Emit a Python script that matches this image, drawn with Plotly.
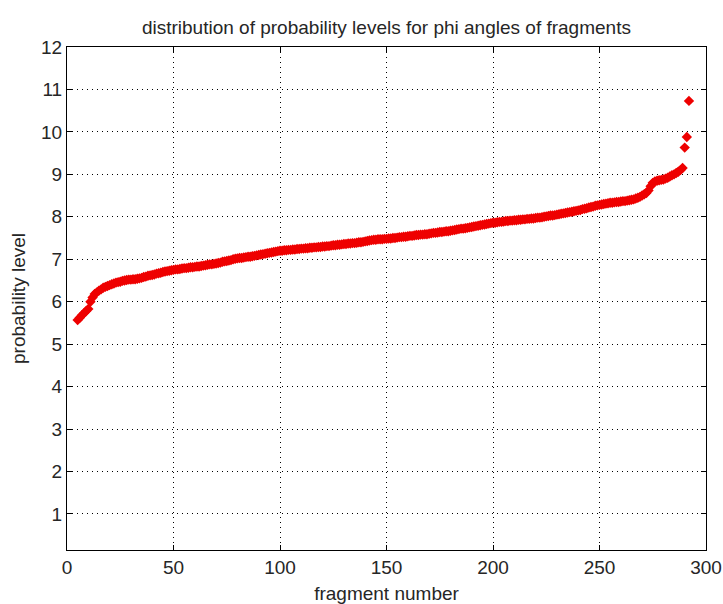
import plotly.graph_objects as go

# fragment index (x) and sorted probability level of each fragment (y)
fragment = list(range(5, 293))
prob_level = [
    5.57, 5.62, 5.68, 5.73, 5.78,
    5.83, 6.00, 6.10, 6.18, 6.22, 6.26, 6.29, 6.33, 6.35, 6.37,
    6.39, 6.41, 6.43, 6.45, 6.46, 6.47, 6.49, 6.50, 6.51, 6.52,
    6.52, 6.53, 6.53, 6.54, 6.55, 6.56, 6.58, 6.59, 6.61, 6.62,
    6.63, 6.64, 6.66, 6.67, 6.68, 6.70, 6.71, 6.72, 6.73, 6.74,
    6.75, 6.76, 6.76, 6.77, 6.78, 6.79, 6.79, 6.80, 6.81, 6.81,
    6.82, 6.83, 6.83, 6.84, 6.85, 6.86, 6.87, 6.88, 6.88, 6.89,
    6.90, 6.91, 6.92, 6.94, 6.95, 6.96, 6.97, 6.98, 7.00, 7.01,
    7.02, 7.03, 7.03, 7.04, 7.05, 7.06, 7.06, 7.07, 7.08, 7.09,
    7.10, 7.11, 7.12, 7.13, 7.14, 7.15, 7.16, 7.17, 7.18, 7.19,
    7.20, 7.20, 7.21, 7.21, 7.22, 7.22, 7.23, 7.23, 7.24, 7.24,
    7.25, 7.25, 7.26, 7.26, 7.27, 7.27, 7.28, 7.28, 7.29, 7.29,
    7.30, 7.30, 7.31, 7.31, 7.32, 7.33, 7.33, 7.34, 7.34, 7.35,
    7.36, 7.36, 7.37, 7.37, 7.38, 7.38, 7.39, 7.40, 7.40, 7.41,
    7.42, 7.43, 7.44, 7.45, 7.46, 7.46, 7.47, 7.47, 7.47, 7.48,
    7.48, 7.49, 7.49, 7.50, 7.50, 7.51, 7.52, 7.52, 7.53, 7.53,
    7.54, 7.55, 7.55, 7.56, 7.57, 7.57, 7.58, 7.58, 7.59, 7.59,
    7.60, 7.61, 7.62, 7.62, 7.63, 7.64, 7.64, 7.65, 7.66, 7.66,
    7.67, 7.68, 7.69, 7.70, 7.71, 7.72, 7.72, 7.73, 7.74, 7.75,
    7.76, 7.77, 7.78, 7.79, 7.80, 7.81, 7.82, 7.83, 7.84, 7.85,
    7.86, 7.86, 7.87, 7.88, 7.88, 7.89, 7.90, 7.90, 7.91, 7.91,
    7.92, 7.92, 7.93, 7.93, 7.94, 7.94, 7.95, 7.95, 7.96, 7.96,
    7.97, 7.98, 7.98, 7.99, 8.00, 8.01, 8.02, 8.03, 8.03, 8.04,
    8.05, 8.06, 8.07, 8.08, 8.09, 8.10, 8.11, 8.12, 8.13, 8.14,
    8.15, 8.16, 8.18, 8.19, 8.20, 8.22, 8.23, 8.24, 8.26, 8.27,
    8.28, 8.29, 8.30, 8.31, 8.32, 8.33, 8.33, 8.34, 8.35, 8.35,
    8.36, 8.37, 8.37, 8.38, 8.39, 8.40, 8.41, 8.43, 8.45, 8.47,
    8.50, 8.53, 8.56, 8.62, 8.72, 8.80, 8.83, 8.85, 8.86, 8.87,
    8.88, 8.90, 8.92, 8.95, 8.98, 9.00, 9.03, 9.06, 9.10, 9.15,
    9.63, 9.88, 10.73,
]

x_ticks = [0, 50, 100, 150, 200, 250, 300]
y_ticks = list(range(1, 13))

FONT = "Liberation Sans Narrow, Arial Narrow, Liberation Sans, sans-serif"
TEXT_COLOR = "#262626"

fig = go.Figure(
    go.Scatter(
        x=fragment,
        y=prob_level,
        mode="markers",
        marker=dict(symbol="diamond", size=8, color="#ee0000", line=dict(width=0)),
        showlegend=False,
    )
)

axis_common = dict(
    showline=True,
    linecolor="black",
    linewidth=1,
    mirror="ticks",
    ticks="inside",
    ticklen=5,
    tickcolor="black",
    showgrid=True,
    gridcolor="black",
    gridwidth=1,
    griddash="1px,4px",
    zeroline=False,
    automargin=False,
    tickfont=dict(family=FONT, size=19, color=TEXT_COLOR),
)

fig.update_xaxes(
    range=[0, 300],
    tickvals=x_ticks,
    title=dict(text="fragment number", font=dict(family=FONT, size=19, color=TEXT_COLOR), standoff=9),
    **axis_common,
)
fig.update_yaxes(
    range=[0.15, 12],
    tickvals=y_ticks,
    title=dict(text="probability level", font=dict(family=FONT, size=19, color=TEXT_COLOR), standoff=10),
    **axis_common,
)

fig.update_layout(
    width=723,
    height=604,
    margin=dict(l=67, r=17, t=47, b=54),
    paper_bgcolor="white",
    plot_bgcolor="white",
    title=dict(
        text="distribution of probability levels for phi angles of fragments",
        font=dict(family=FONT, size=19, color=TEXT_COLOR),
        x=0.5345,
        xanchor="center",
        y=0.955,
        yanchor="middle",
    ),
)

fig.write_html("out.html")
